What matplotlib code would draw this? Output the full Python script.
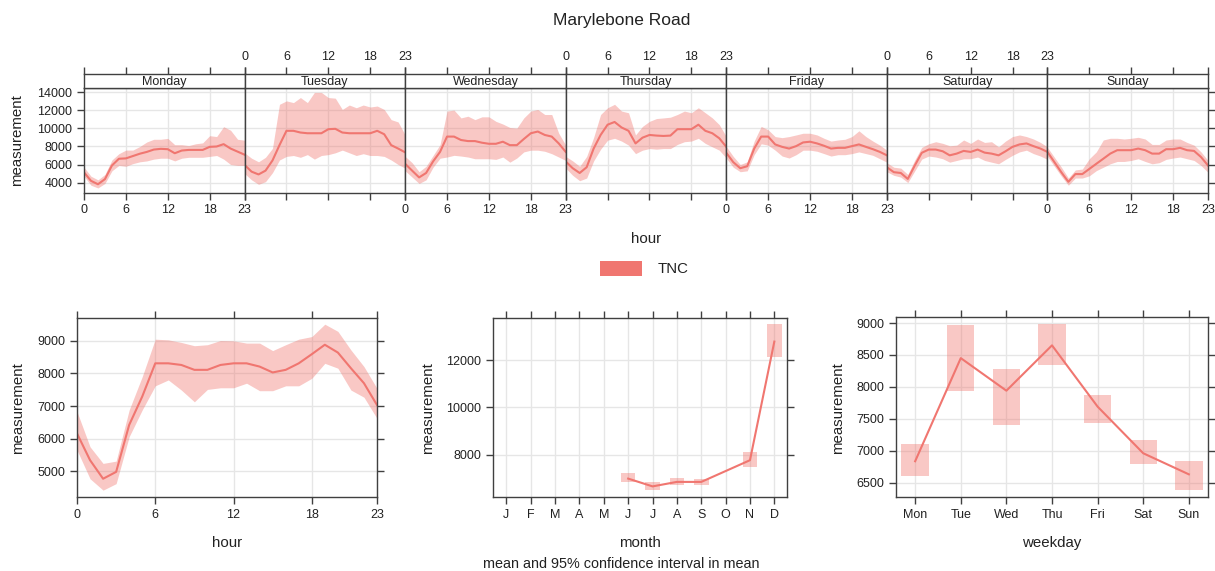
import matplotlib.pyplot as plt
from matplotlib.patches import Rectangle
import numpy as np

plt.rcParams['font.family'] = ['Liberation Sans', 'DejaVu Sans']

# ---- data ----
days = ['Monday', 'Tuesday', 'Wednesday', 'Thursday', 'Friday', 'Saturday', 'Sunday']
hours = list(range(24))

mon_mean = [5130, 4190, 3810, 4380, 5890, 6640, 6680, 6940, 7200, 7400, 7660, 7740,
            7700, 7250, 7550, 7620, 7620, 7620, 7960, 8000, 8260, 7770, 7430, 7090]
mon_lo = [4700, 3700, 3400, 3900, 5300, 5900, 5800, 6100, 6300, 6400, 6600, 6700,
          6700, 6400, 6700, 6800, 6800, 6800, 6900, 7000, 6600, 6000, 5900, 5900]
mon_hi = [5700, 4700, 4300, 4900, 6500, 7200, 7600, 7600, 8000, 8500, 8800, 8800,
          8900, 8200, 8200, 8100, 8300, 8400, 9200, 9100, 10200, 9800, 8800, 8700]

tue_mean = [5960, 5210, 4900, 5320, 6450, 8150, 9740, 9740, 9550, 9470, 9470, 9470,
            9920, 9960, 9550, 9470, 9470, 9470, 9470, 9740, 9360, 8150, 7770, 7350]
tue_lo = [5000, 4300, 3800, 4100, 5100, 6500, 6900, 7000, 6800, 7100, 6600, 7000,
          7100, 7300, 7600, 7300, 7000, 7200, 7000, 7000, 6900, 6500, 6000, 5600]
tue_hi = [7300, 6700, 6300, 6800, 7800, 12680, 13060, 12870, 13430, 12870, 14000, 14000,
          13430, 13360, 12110, 12600, 12300, 12600, 12380, 12490, 12110, 10980, 10720, 9280]

wed_mean = [6080, 5320, 4570, 5060, 6340, 7400, 9100, 9100, 8720, 8600, 8600, 8420,
            8300, 8300, 8530, 8150, 8150, 8830, 9470, 9660, 9280, 9100, 8340, 7400]
wed_lo = [5300, 4600, 3900, 4300, 5700, 6700, 6830, 7020, 6940, 6830, 6640, 6640,
          6640, 6570, 6830, 6260, 6720, 7400, 7590, 7590, 7470, 7200, 6830, 6450]
wed_hi = [6900, 6200, 5200, 5800, 7000, 8200, 11930, 12040, 11170, 11360, 10980, 11290,
          11290, 10790, 10490, 10110, 10040, 11170, 11930, 12110, 11550, 11550, 9470, 8150]

thu_mean = [6340, 5590, 5060, 5700, 7770, 9280, 10420, 10720, 10110, 9740, 8340, 8980,
            9280, 9210, 9170, 9210, 9920, 9920, 9920, 10420, 9740, 9470, 8910, 7960]
thu_lo = [5600, 4800, 4200, 4500, 6400, 7700, 8700, 8910, 8600, 8150, 7210, 7590,
          7770, 7700, 7770, 7770, 8230, 8530, 8600, 8910, 8340, 7960, 7590, 6720]
thu_hi = [6900, 6400, 5800, 6900, 9000, 11550, 12300, 12680, 11930, 11740, 9280, 10230,
          10790, 11100, 11170, 11250, 11550, 11930, 11740, 12300, 11740, 11170, 10420, 9100]

fri_mean = [7300, 6260, 5590, 5810, 7770, 9100, 9100, 8230, 7960, 7770, 8040, 8450,
            8530, 8340, 8080, 7770, 7850, 7850, 8040, 8230, 7960, 7700, 7400, 7020]
fri_lo = [6700, 5700, 5200, 5300, 7100, 8300, 8150, 7590, 6940, 6720, 7090, 7590,
          7590, 7470, 7210, 6940, 7090, 7090, 7210, 7400, 7210, 7020, 6640, 6260]
fri_hi = [8000, 6900, 6000, 6300, 8600, 10230, 9850, 9100, 8980, 9100, 9280, 9470,
          9470, 9280, 8910, 8600, 8720, 8800, 9100, 9740, 9100, 8600, 8150, 7590]

sat_mean = [5700, 5150, 5060, 4400, 5890, 7300, 7660, 7660, 7470, 7020, 7210, 7510,
            7400, 7660, 7320, 7210, 7020, 7470, 7960, 8230, 8340, 8040, 7770, 7400]
sat_lo = [5200, 4800, 4600, 4000, 5300, 6600, 6940, 6830, 6640, 6260, 6450, 6640,
          6640, 6830, 6450, 6260, 6080, 6570, 7020, 7400, 7590, 7210, 6940, 6570]
sat_hi = [6200, 5700, 5600, 4900, 6500, 7900, 8300, 8530, 8350, 8080, 8150, 8720,
          8340, 8830, 8450, 8530, 7960, 8600, 9100, 9280, 9100, 8830, 8450, 7960]

sun_mean = [7400, 6260, 5130, 4080, 4940, 4940, 5510, 6080, 6640, 7210, 7590, 7590,
            7590, 7770, 7590, 7210, 7210, 7700, 7700, 7850, 7590, 7510, 6830, 5890]
sun_lo = [6900, 5800, 4700, 3700, 4500, 4500, 4750, 5320, 5700, 6080, 6340, 6340,
          6450, 6640, 6340, 6080, 6200, 6570, 6720, 6830, 6640, 6450, 5890, 5130]
sun_hi = [7900, 6800, 5700, 4500, 5400, 5500, 6640, 7400, 8720, 8910, 8910, 8830,
          8910, 9020, 8830, 8230, 8230, 8720, 8830, 8830, 8450, 8150, 7400, 6450]

hour_mean = [6160, 5340, 4770, 4980, 6420, 7290, 8310, 8310, 8260, 8110, 8110, 8260,
             8310, 8310, 8210, 8030, 8110, 8310, 8590, 8880, 8640, 8160, 7700, 7030]
hour_lo = [5650, 4770, 4420, 4620, 6060, 6880, 7620, 7800, 7490, 7130, 7510, 7560,
           7560, 7700, 7470, 7470, 7620, 7620, 7850, 8310, 8160, 7490, 7270, 6620]
hour_hi = [6830, 5750, 5240, 5310, 6880, 7900, 9050, 9030, 8950, 8850, 8880, 9010,
           9000, 8930, 8930, 8700, 8880, 9050, 9130, 9510, 9290, 8720, 8210, 7540]

month_labels = ['J', 'F', 'M', 'A', 'M', 'J', 'J', 'A', 'S', 'O', 'N', 'D']
month_num = [6, 7, 8, 9, 10, 11, 12]
month_mean = [6980, 6650, 6840, 6840, 7300, 7760, 12790]
month_lo = [6840, 6510, 6720, 6700, np.nan, 7480, 12130]
month_hi = [7220, 6840, 7020, 6980, np.nan, 8110, 13550]

wd_labels = ['Mon', 'Tue', 'Wed', 'Thu', 'Fri', 'Sat', 'Sun']
wd_mean = [6835, 8450, 7940, 8650, 7690, 6960, 6630]
wd_lo = [6605, 7935, 7410, 8345, 7430, 6790, 6380]
wd_hi = [7100, 8975, 8280, 8990, 7870, 7165, 6840]

day_mean = [mon_mean, tue_mean, wed_mean, thu_mean, fri_mean, sat_mean, sun_mean]
day_lo = [mon_lo, tue_lo, wed_lo, thu_lo, fri_lo, sat_lo, sun_lo]
day_hi = [mon_hi, tue_hi, wed_hi, thu_hi, fri_hi, sat_hi, sun_hi]

# ---- style ----
col = '#F07670'
frame = '#404040'
txt = '#222222'
gridc = '#e6e6e6'
tsize = 9
lsize = 10.8
W, H = 1215, 571
fig = plt.figure(figsize=(W / 100, H / 100), dpi=100)


def box(x0, y0, x1, y1):
    return [x0 / W, 1 - y1 / H, (x1 - x0) / W, (y1 - y0) / H]


def frame_style(ax):
    for s in ax.spines.values():
        s.set_color(frame)
        s.set_linewidth(1)
    ax.tick_params(direction='out', length=5, width=1, color=frame,
                   labelcolor=txt, labelsize=tsize)
    ax.set_axisbelow(True)


# ---- top panel: day x hour ----
left, right = 84, 1208
dw = (right - left) / 7
for i, d in enumerate(days):
    x0 = left + i * dw
    ax = fig.add_axes(box(x0, 88, x0 + dw, 193))
    ax.fill_between(hours, day_lo[i], day_hi[i], color=col, alpha=0.4, lw=0)
    ax.plot(hours, day_mean[i], color=col, lw=1.5)
    ax.set_xlim(0, 23)
    ax.set_ylim(2840, 14490)
    for g in [6, 12, 18]:
        ax.axvline(g, color=gridc, lw=1, zorder=0)
    for g in range(4000, 14001, 2000):
        ax.axhline(g, color=gridc, lw=1, zorder=0)
    frame_style(ax)
    ax.set_xticks([0, 6, 12, 18, 23])
    ax.tick_params(axis='x', labelbottom=(i % 2 == 0), pad=3)
    ax.set_yticks(range(4000, 14001, 2000))
    ax.tick_params(axis='y', left=(i == 0), labelleft=(i == 0),
                   right=(i == 6), labelright=False)

    st = fig.add_axes(box(x0, 74, x0 + dw, 88))
    st.set_xlim(0, 23)
    st.set_ylim(0, 1)
    st.set_yticks([])
    frame_style(st)
    st.set_xticks([0, 6, 12, 18, 23])
    st.tick_params(axis='x', top=True, bottom=False, labelbottom=False,
                   labeltop=(i % 2 == 1), pad=3)
    st.text(11.5, 0.45, d, ha='center', va='center', fontsize=9, color=txt)

fig.text(17 / W, 1 - 140 / H, 'measurement', rotation=90, ha='center', va='center',
         fontsize=lsize, color=txt)
fig.text(646 / W, 1 - 239 / H, 'hour', ha='center', va='center', fontsize=lsize, color=txt)
fig.text(622 / W, 1 - 20 / H, 'Marylebone Road', ha='center', va='center',
         fontsize=12.5, color=txt)

# legend
fig.patches.append(Rectangle((600 / W, 1 - 276 / H), 42 / W, 15 / H,
                             transform=fig.transFigure, color=col, lw=0))
fig.text(658 / W, 1 - 269 / H, 'TNC', ha='left', va='center', fontsize=lsize, color=txt)

# ---- bottom left: hour ----
ax = fig.add_axes(box(77, 318, 377, 497))
ax.fill_between(hours, hour_lo, hour_hi, color=col, alpha=0.4, lw=0)
ax.plot(hours, hour_mean, color=col, lw=1.5)
ax.set_xlim(0, 23)
ax.set_ylim(4210, 9700)
ax.set_xticks([0, 6, 12, 18, 23])
ax.set_yticks([5000, 6000, 7000, 8000, 9000])
ax.grid(color=gridc, lw=1)
frame_style(ax)
ax.tick_params(top=True, right=True)
fig.text(18 / W, 1 - 408 / H, 'measurement', rotation=90, ha='center', va='center',
         fontsize=lsize, color=txt)
fig.text(227 / W, 1 - 543 / H, 'hour', ha='center', va='center', fontsize=lsize, color=txt)

# ---- bottom middle: month ----
ax = fig.add_axes(box(493, 318, 787, 497))
for m, lo, hi in zip(month_num, month_lo, month_hi):
    if not np.isnan(lo):
        ax.add_patch(Rectangle((m - 0.3, lo), 0.6, hi - lo, color=col, alpha=0.4, lw=0))
ax.plot(month_num, month_mean, color=col, lw=1.5)
ax.set_xlim(0.45, 12.52)
ax.set_ylim(6200, 13790)
ax.set_xticks(range(1, 13))
ax.set_xticklabels(month_labels)
ax.set_yticks([8000, 10000, 12000])
ax.grid(color=gridc, lw=1)
frame_style(ax)
ax.tick_params(top=True, right=True)
fig.text(428 / W, 1 - 408 / H, 'measurement', rotation=90, ha='center', va='center',
         fontsize=lsize, color=txt)
fig.text(640 / W, 1 - 543 / H, 'month', ha='center', va='center', fontsize=lsize, color=txt)
fig.text(621 / W, 1 - 564 / H, 'mean and 95% confidence interval in mean',
         ha='center', va='center', fontsize=10.4, color=txt)

# ---- bottom right: weekday ----
ax = fig.add_axes(box(896, 317, 1208, 497))
wd_x = list(range(1, 8))
for x, lo, hi in zip(wd_x, wd_lo, wd_hi):
    ax.add_patch(Rectangle((x - 0.3, lo), 0.6, hi - lo, color=col, alpha=0.4, lw=0))
ax.plot(wd_x, wd_mean, color=col, lw=1.5)
ax.set_xlim(0.58, 7.42)
ax.set_ylim(6275, 9094)
ax.set_xticks(wd_x)
ax.set_xticklabels(wd_labels)
ax.set_yticks([6500, 7000, 7500, 8000, 8500, 9000])
ax.grid(color=gridc, lw=1)
frame_style(ax)
ax.tick_params(top=True, right=True)
fig.text(838 / W, 1 - 408 / H, 'measurement', rotation=90, ha='center', va='center',
         fontsize=lsize, color=txt)
fig.text(1052 / W, 1 - 543 / H, 'weekday', ha='center', va='center', fontsize=lsize, color=txt)

fig.savefig('out.png', dpi=100)
